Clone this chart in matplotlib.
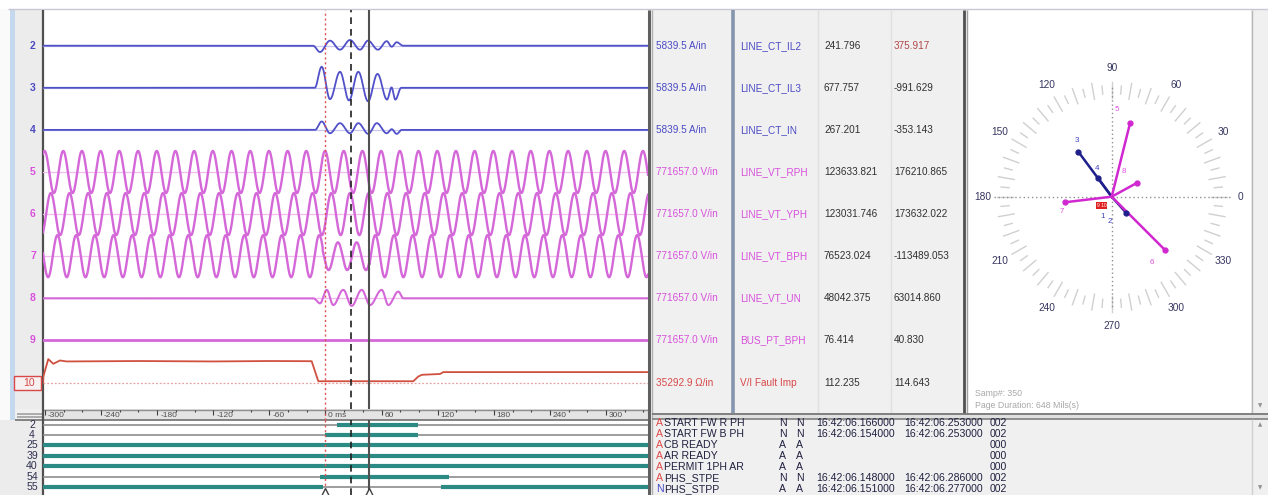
import numpy as np
import matplotlib
matplotlib.use("Agg")
import matplotlib.pyplot as plt
from matplotlib.patches import Rectangle
from matplotlib import font_manager as fm
import matplotlib.transforms as mtrans

W, H = 1268, 495

# ---------------- data ----------------
ch_nums = ["2", "3", "4", "5", "6", "7", "8", "9", "10"]
ch_scales = ["5839.5 A/in", "5839.5 A/in", "5839.5 A/in",
             "771657.0 V/in", "771657.0 V/in", "771657.0 V/in", "771657.0 V/in", "771657.0 V/in",
             "35292.9 Ω/in"]
ch_names = ["LINE_CT_IL2", "LINE_CT_IL3", "LINE_CT_IN", "LINE_VT_RPH", "LINE_VT_YPH",
            "LINE_VT_BPH", "LINE_VT_UN", "BUS_PT_BPH", "V/I Fault Imp"]
ch_val1 = ["241.796", "677.757", "267.201", "123633.821", "123031.746", "76523.024",
           "48042.375", "76.414", "112.235"]
ch_val2 = ["375.917", "-991.629", "-353.143", "176210.865", "173632.022", "-113489.053",
           "63014.860", "40.830", "114.643"]

# fault transients: extrema (time ms, value in divisions)
il2_t = [-13.4, -5.9, 4.8, 15.5, 26.2, 36.9, 45.5, 56.1, 65.5, 70.8, 76.1, 82.9]
il2_v = [0.0, -0.15, 0.12, -0.095, 0.135, -0.095, 0.12, -0.095, 0.107, -0.024, 0.083, 0.0]
il3_t = [-11.5, -4.1, 4.8, 15.5, 25.1, 35.1, 45.5, 55.6, 65.8, 70.6, 74.7, 81.0]
il3_v = [0.0, 0.50, -0.27, 0.38, -0.30, 0.38, -0.32, 0.33, -0.28, 0.01, -0.28, 0.0]
in_t = [-11.2, -4.1, 4.8, 15.5, 26.2, 35.1, 45.8, 54.8, 65.5, 70.8, 76.1, 81.5]
in_v = [0.0, 0.20, -0.08, 0.16, -0.08, 0.16, -0.095, 0.16, -0.08, 0.017, -0.095, 0.0]
vun_t = [-13.0, -5.9, 1.3, 8.3, 19.0, 28.0, 38.7, 47.6, 60.1, 67.2, 77.9, 83.2]
vun_v = [0.0, -0.12, 0.20, -0.16, 0.20, -0.18, 0.20, -0.16, 0.20, -0.16, 0.16, 0.0]

# phase voltages (rows 5,6,7): time of a positive peak (ms), pre/fault amplitude (div)
v_peak_ms = [-0.5, 6.2, -6.7]
v_amp_pre = [0.50, 0.50, 0.50]
v_amp_fault = [0.50, 0.50, 0.33]
v_fault_window = [-3.0, 47.0]

# channel 10 (V/I fault impedance), divisions above baseline
imp_t = [-302.1, -301.8, -296.5, -291.1, -284.0, -276.8, -200.0, -120.0, -60.0, -14.8,
         -7.7, 93.9, 99.3, 103.2, 122.5, 126.0, 345.0]
imp_v = [0.0, 0.14, 0.556, 0.444, 0.523, 0.50, 0.51, 0.50, 0.51, 0.506,
         0.03, 0.03, 0.143, 0.183, 0.202, 0.247, 0.247]

time_ticks = [-300, -240, -180, -120, -60, 0, 60, 120, 180, 240, 300]
time_labels = ["-300", "-240", "-180", "-120", "-60", "0 ms", "60", "120", "180", "240", "300"]
cursor_ms = [0.0, 27.0, 46.5]

dig_labels = ["2", "4", "25", "39", "40", "54", "55"]
dig_on = [[(12, 99)], [(0, 99)], [(-303, 346)], [(-303, 346)], [(-303, 346)],
          [(-6, 132)], [(-303, -3), (123, 346)]]

ev_flag = ["A", "A", "A", "A", "A", "A", "N"]
ev_name = ["START FW R PH", "START FW B PH", "CB READY", "AR READY", "PERMIT 1PH AR",
           "PHS_STPE", "PHS_STPP"]
ev_s1 = ["N", "N", "A", "A", "A", "N", "A"]
ev_s2 = ["N", "N", "A", "A", "A", "N", "A"]
ev_t1 = ["16:42:06.166000", "16:42:06.154000", "", "", "", "16:42:06.148000", "16:42:06.151000"]
ev_t2 = ["16:42:06.253000", "16:42:06.253000", "", "", "", "16:42:06.286000", "16:42:06.277000"]
ev_code = ["002", "002", "000", "000", "000", "002", "002"]

ph_ids = ["2", "3", "4", "5", "6", "7", "8"]
ph_ang = [-48.0, 126.6, 126.2, 76.0, -45.0, 186.8, 28.7]
ph_mag = [22, 56, 23, 76, 75, 47, 29]
ph_lab_ang = [266.0, 121.7, 117.8, 86.7, -58.2, 196.7, 63.3]
ph_lab_r = [25, 66, 32, 87, 77, 52, 28]
ang_labels = ["0", "30", "60", "90", "120", "150", "180", "210", "240", "270", "300", "330"]

# ---------------- style ----------------
def font_ok(name):
    try:
        fm.findfont(fm.FontProperties(family=name), fallback_to_default=False)
        return True
    except Exception:
        return False

SANS = 'Liberation Sans' if font_ok('Liberation Sans') else 'DejaVu Sans'
NARROW = 'Liberation Sans Narrow' if font_ok('Liberation Sans Narrow') else SANS
nscale = 1.0 if NARROW != SANS else 0.86

BLUE = '#5050c8'
MAG = '#d468d8'
RED = '#d05040'
BLUE_T = '#4a4ac4'
MAG_T = '#d850dc'
RED_T = '#d84848'

fig = plt.figure(figsize=(W / 100, H / 100), dpi=100)
fig.patch.set_facecolor('#f0f0f0')


def px_axes(x0, y0, x1, y1, **kw):
    return fig.add_axes([x0 / W, 1 - y1 / H, (x1 - x0) / W, (y1 - y0) / H], **kw)


bg = px_axes(0, 0, W, H)
bg.set_xlim(0, W)
bg.set_ylim(H, 0)
bg.axis('off')
bg.set_zorder(0)


def rect(x0, y0, x1, y1, fc, ec='none', lw=0, z=0):
    bg.add_patch(Rectangle((x0, y0), x1 - x0, y1 - y0, facecolor=fc, edgecolor=ec, lw=lw, zorder=z))


def hl(y, x0, x1, c, lw=1, z=2, ls='-'):
    bg.plot([x0, x1], [y, y], color=c, lw=lw, zorder=z, ls=ls, solid_capstyle='butt')


def vl(x, y0, y1, c, lw=1, z=2, ls='-'):
    bg.plot([x, x], [y0, y1], color=c, lw=lw, zorder=z, ls=ls, solid_capstyle='butt')


# chrome
rect(0, 0, W, 9, '#ffffff')
hl(9, 8, W, '#c8c8d4', 1)
rect(0, 9, 10, 420, '#fafafa')
rect(10, 10, 15, 420, '#c4d8ee')
rect(15, 10, 43, 409, '#ececec')
rect(43, 10, 648, 409, '#ffffff')
rect(0, 420, 43, H, '#ececec')
rect(43, 420, 648, H, '#ffffff')
rect(43, 409, 648, 420, '#e4e4e4')
hl(409.5, 43, 648, '#909090', 1)
hl(419.5, 15, 648, '#707070', 1.2)
hl(414, 17, 42, '#a0a0a0', 1.2)
hl(416.5, 17, 42, '#a0a0a0', 1.2)
vl(43, 10, H, '#505050', 1.6)
vl(649, 10, H, '#606060', 2.2)
vl(651.5, 10, H, '#b0b0b0', 1)

# table panel
rect(652, 10, 963, 413, '#f0f0f0')
vl(818, 10, 413, '#e0e0e0', 1)
vl(891, 10, 413, '#e0e0e0', 1)
vl(732.5, 10, 413, '#8595ad', 2.6)
vl(964, 10, 413, '#505050', 2.0)
vl(966.5, 10, 413, '#a0a0a0', 1)

# phasor panel
rect(967, 10, 1251, 413, '#ffffff')
vl(1251.5, 10, 413, '#b8b8b8', 1)
rect(1252, 10, W, 413, '#f0f0f0')
bg.text(1260, 406, '▼', fontsize=4, color='#909090', ha='center', va='center', family='DejaVu Sans')
bg.text(975, 393, 'Samp#: 350', fontsize=6.3, color='#a8a8a8', ha='left', va='center', family=SANS)
bg.text(975, 405, 'Page Duration: 648 Mils(s)', fontsize=6.3, color='#a8a8a8', ha='left', va='center', family=SANS)

# divider and event list
rect(652, 413, W, 419, '#e0e0e0')
hl(413.5, 652, W, '#707070', 1.2)
hl(418.5, 652, W, '#808080', 1.2)
rect(652, 419, 1252, H, '#f0f0f0')
rect(1252, 419, W, H, '#f0f0f0')
vl(1252, 419, H, '#d0d0d0', 1)
bg.text(1260, 425, '▲', fontsize=4, color='#909090', ha='center', va='center', family='DejaVu Sans')
bg.text(1260, 488, '▼', fontsize=4, color='#909090', ha='center', va='center', family='DejaVu Sans')

# ---------------- channel labels & table ----------------
row_y0, row_dy = 45.7, 42.1
for k, num in enumerate(ch_nums):
    y = row_y0 + k * row_dy
    if k < 3:
        c, ct = BLUE_T, BLUE_T
    elif k < 8:
        c, ct = MAG_T, MAG_T
    else:
        c, ct = RED_T, RED_T
    if num == "10":
        bg.add_patch(Rectangle((14, y - 7), 27, 14.5, facecolor='#f6f0f0', edgecolor=RED_T, lw=1, zorder=3))
        bg.text(29, y + 0.5, num, fontsize=7.5, color=RED_T, ha='center', va='center', family=SANS, zorder=4)
    else:
        bg.text(33, y, num, fontsize=7.5, color=c, ha='center', va='center', family=SANS,
                fontweight='bold', zorder=4)
    bg.text(656, y, ch_scales[k], fontsize=7.2, color=ct, ha='left', va='center', family=SANS)
    bg.text(740, y, ch_names[k], fontsize=7.2, color=ct, ha='left', va='center', family=SANS)
    bg.text(824, y, ch_val1[k], fontsize=7.2, color='#303030', ha='left', va='center', family=SANS)
    bg.text(894, y, ch_val2[k], fontsize=7.2, color='#b04848' if k == 0 else '#303030',
            ha='left', va='center', family=SANS)

# ---------------- waveform axes ----------------
t0 = (43 - 325.5) / 0.935
t1 = (648 - 325.5) / 0.935
ax = px_axes(43, 10, 648, 409)
ax.patch.set_alpha(0)
ax.set_xlim(t0, t1)
ax.set_ylim(-(409 - row_y0) / row_dy, (row_y0 - 10) / row_dy)
ax.axis('off')
ax.set_zorder(2)

t = np.linspace(t0, t1, 4000)


def shaped(tk, vk, tt):
    tk = np.asarray(tk, float)
    vk = np.asarray(vk, float)
    out = np.zeros_like(tt)
    for i in range(len(tk) - 1):
        m = (tt >= tk[i]) & (tt < tk[i + 1])
        s = (tt[m] - tk[i]) / (tk[i + 1] - tk[i])
        out[m] = vk[i] + (vk[i + 1] - vk[i]) * (1 - np.cos(np.pi * s)) / 2
    return out


for k in range(9):
    col = '#c8c8ee' if k < 3 else ('#f2bcf2' if k < 8 else '#e8a0a0')
    ls = '-' if k < 8 else (0, (1.5, 1.5))
    ax.axhline(-k, color=col, lw=0.9, ls=ls, zorder=1)

for k, (tk, vk) in enumerate([(il2_t, il2_v), (il3_t, il3_v), (in_t, in_v)]):
    ax.plot(t, -k + shaped(tk, vk, t), color=BLUE, lw=1.3, zorder=3)

for j in range(3):
    inside = (t >= v_fault_window[0]) & (t < v_fault_window[1])
    amp = np.where(inside, v_amp_fault[j], v_amp_pre[j])
    y = amp * np.cos(2 * np.pi * (t - v_peak_ms[j]) / 20.0)
    ax.plot(t, -(3 + j) + y, color=MAG, lw=1.7, zorder=3)

ax.plot(t, -6 + shaped(vun_t, vun_v, t), color=MAG, lw=1.5, zorder=3)
ax.plot([t0, t1], [-7, -7], color=MAG, lw=2.0, zorder=3)
ax.plot(imp_t, [-8 + v for v in imp_v], color=RED, lw=1.3, zorder=3)

cur_styles = [dict(color='#e05050', lw=1.0, ls=(0, (1.5, 2))),
              dict(color='#202020', lw=1.2, ls=(0, (4, 3))),
              dict(color='#505050', lw=1.5, ls='-')]
for cm, st in zip(cursor_ms, cur_styles):
    ax.axvline(cm, zorder=4, **st)

# ---------------- time strip ----------------
axt = px_axes(43, 409, 648, 420)
axt.patch.set_alpha(0)
axt.set_xlim(t0, t1)
axt.set_ylim(0, 1)
axt.axis('off')
axt.set_zorder(2)
minor = [m for m in range(-300, 341, 20) if m not in time_ticks]
axt.vlines(time_ticks, 0.45, 0.95, color='#404040', lw=0.8)
axt.vlines(minor, 0.7, 0.95, color='#404040', lw=0.8)
off = mtrans.offset_copy(axt.transData, fig=fig, x=3, y=0, units='dots')
for tv, lab in zip(time_ticks, time_labels):
    axt.text(tv, 0.45, lab, transform=off, fontsize=6.0,
             color='#505050', ha='left', va='center', family=NARROW)
axt.axvline(cursor_ms[0], **cur_styles[0])

# ---------------- digital axes ----------------
d_y0, d_dy = 424.5, 10.45
axd = px_axes(43, 420, 648, H)
axd.patch.set_alpha(0)
axd.set_xlim(t0, t1)
axd.set_ylim((H - d_y0) / d_dy, -(d_y0 - 420) / d_dy)
axd.axis('off')
axd.set_zorder(2)
for i, lab in enumerate(dig_labels):
    axd.plot([t0, t1], [i, i], color='#8c8c8c', lw=1.2, zorder=1, solid_capstyle='butt')
    for (a, b) in dig_on[i]:
        axd.plot([max(a, t0), min(b, t1)], [i, i], color='#2b8a84', lw=3.0, zorder=2,
                 solid_capstyle='butt')
    bg.text(32, d_y0 + i * d_dy, lab, fontsize=8.8 * nscale, color='#303050', ha='center',
            va='center', family=NARROW)
for cm, st in zip(cursor_ms, cur_styles):
    axd.axvline(cm, zorder=4, **st)
axd.plot([cursor_ms[0], cursor_ms[2]], [6.45, 6.45], ls='none', marker='^', ms=6,
         mfc='white', mec='#404040', mew=1, zorder=5, clip_on=False)

# ---------------- event list ----------------
for i in range(len(ev_name)):
    y = 423.5 + i * 10.9
    fs = 8.8 * nscale
    bg.text(656, y, ev_flag[i], fontsize=fs, color='#e04848' if ev_flag[i] == 'A' else '#4848c8',
            ha='left', va='center', family=NARROW)
    bg.text(664, y, ev_name[i], fontsize=fs, color='#202040', ha='left', va='center', family=NARROW)
    bg.text(779, y, ev_s1[i], fontsize=fs, color='#202040', ha='left', va='center', family=NARROW)
    bg.text(796, y, ev_s2[i], fontsize=fs, color='#202040', ha='left', va='center', family=NARROW)
    bg.text(816, y, ev_t1[i], fontsize=fs, color='#202040', ha='left', va='center', family=NARROW)
    bg.text(904, y, ev_t2[i], fontsize=fs, color='#202040', ha='left', va='center', family=NARROW)
    bg.text(990, y, ev_code[i], fontsize=fs, color='#202040', ha='left', va='center', family=NARROW)

# ---------------- phasor diagram ----------------
cx, cy, R = 1111.7, 196.7, 140
axp = px_axes(cx - R, cy - R, cx + R, cy + R, projection='polar')
axp.set_rlim(0, R)
axp.grid(False)
axp.set_xticks([])
axp.set_yticks([])
axp.spines['polar'].set_visible(False)
axp.patch.set_alpha(0)
axp.set_zorder(3)
for a in range(0, 360, 5):
    th = np.deg2rad(a)
    r0, r1 = (99, 115) if a % 10 == 0 else (103, 111)
    axp.plot([th, th], [r0, r1], color='#d0d0d0', lw=1.0, clip_on=False)
for a in (0, 180):
    axp.plot([np.deg2rad(a)] * 2, [0, 120], color='#909090', lw=1, ls=(0, (1, 2)))
for a in (90, 270):
    axp.plot([np.deg2rad(a)] * 2, [0, 110], color='#909090', lw=1, ls=(0, (1, 2)))
for j, lab in enumerate(ang_labels):
    th = np.deg2rad(30 * j)
    axp.text(th, 129, lab, fontsize=7.3, color='#35355f', ha='center', va='center', family=SANS,
             clip_on=False)
for pid, a, m, la, lr in zip(ph_ids, ph_ang, ph_mag, ph_lab_ang, ph_lab_r):
    is_i = pid in ("1", "2", "3", "4")
    c = '#20208c' if is_i else '#d028d0'
    lc = '#4040c0' if is_i else '#e050e0'
    th = np.deg2rad(a)
    axp.plot([th, th], [0, m], color=c, lw=1.8, zorder=4)
    axp.plot([th], [m], marker='o', ms=3.5, color=c, zorder=5)
    axp.text(np.deg2rad(la), lr, pid, fontsize=5.8, color=lc, ha='center', va='center',
             family=SANS, zorder=6)
axp.text(np.deg2rad(246.8), 22, "1", fontsize=5.8, color='#4040c0', ha='center', va='center',
         family=SANS, zorder=6)
axp.text(np.deg2rad(220.8), 13.5, "9 10", fontsize=3.5, color='white', ha='center', va='center',
         family=SANS, zorder=7, bbox=dict(boxstyle='square,pad=0.15', fc='#e02020', ec='none'))

fig.savefig('out.png', dpi=100, facecolor=fig.get_facecolor())
